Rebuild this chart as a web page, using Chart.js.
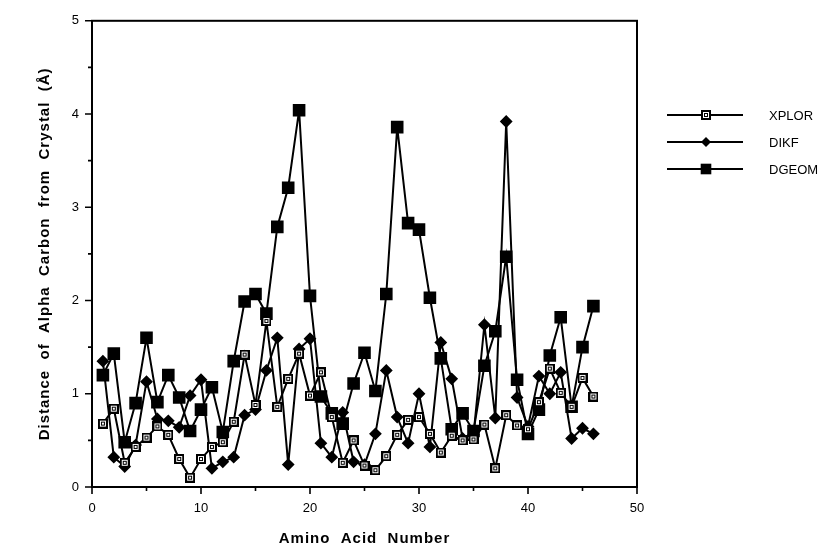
<!DOCTYPE html>
<html><head><meta charset="utf-8">
<script src="https://cdn.jsdelivr.net/npm/chart.js@4/dist/chart.umd.min.js"></script>
<style>html,body{margin:0;padding:0;background:#fff}#wrap{width:827px;height:554px}</style>
</head><body><div id="wrap"><canvas id="c" width="827" height="554"></canvas></div>
<script>
const aminoAcidNumbers = [1,2,3,4,5,6,7,8,9,10,11,12,13,14,15,16,17,18,19,20,21,22,23,24,25,26,27,28,29,30,31,32,33,34,35,36,37,38,39,40,41,42,43,44,45,46];
const xplorValues = [0.68,0.84,0.26,0.43,0.53,0.65,0.56,0.30,0.10,0.30,0.43,0.48,0.70,1.42,0.88,1.78,0.86,1.16,1.43,0.98,1.23,0.75,0.26,0.50,0.23,0.18,0.33,0.56,0.72,0.75,0.57,0.37,0.55,0.50,0.51,0.67,0.20,0.77,0.66,0.62,0.91,1.27,1.01,0.86,1.17,0.97];
const dikfValues = [1.35,0.32,0.22,0.45,1.13,0.73,0.71,0.64,0.98,1.15,0.20,0.27,0.32,0.77,0.83,1.25,1.60,0.24,1.48,1.59,0.47,0.32,0.80,0.27,0.24,0.57,1.25,0.75,0.47,1.00,0.43,1.55,1.16,0.52,0.56,1.74,0.74,3.92,0.96,0.65,1.19,1.00,1.23,0.52,0.63,0.57];
const dgeomValues = [1.20,1.43,0.48,0.90,1.60,0.91,1.20,0.96,0.60,0.83,1.07,0.59,1.35,1.99,2.07,1.86,2.79,3.21,4.04,2.05,0.97,0.79,0.68,1.11,1.44,1.03,2.07,3.86,2.83,2.76,2.03,1.38,0.62,0.79,0.60,1.30,1.67,2.47,1.15,0.57,0.83,1.41,1.82,0.86,1.50,1.94];
const seriesNames = ['XPLOR','DIKF','DGEOM'];
const xTickLabels = [0,10,20,30,40,50];
const yTickLabels = [0,1,2,3,4,5];
const xTitle = 'Amino  Acid  Number';
const yTitle = 'Distance  of  Alpha  Carbon  from  Crystal  (Å)';
const FONT = '"Liberation Sans", Arial, sans-serif';

// open square marker with small inner box
const openSq = document.createElement('canvas');
openSq.width = 10; openSq.height = 10;
(function(){
  const g = openSq.getContext('2d');
  g.fillStyle = '#000'; g.fillRect(0,0,10,10);
  g.fillStyle = '#fff'; g.fillRect(2,2,6,6);
  g.strokeStyle = '#000'; g.lineWidth = 1; g.strokeRect(3.5,3.5,3,3);
})();

function pts(vals){ return aminoAcidNumbers.map((x,i)=>({x:x,y:vals[i]})); }

const frameTicks = {
  id:'frameTicks',
  afterDraw(chart){
    const {ctx, chartArea:a, scales:{x,y}} = chart;
    ctx.save();
    ctx.strokeStyle = '#000'; ctx.lineWidth = 2;
    ctx.strokeRect(a.left, a.top, a.right-a.left, a.bottom-a.top);
    ctx.lineWidth = 1.6;
    ctx.beginPath();
    for (let i=0;i<xTickLabels.length;i++){
      const px = x.getPixelForValue(xTickLabels[i]);
      ctx.moveTo(px, a.bottom); ctx.lineTo(px, a.bottom+7);
      if (i<xTickLabels.length-1){
        const m = x.getPixelForValue((xTickLabels[i]+xTickLabels[i+1])/2);
        ctx.moveTo(m, a.bottom); ctx.lineTo(m, a.bottom+4);
      }
    }
    for (let i=0;i<yTickLabels.length;i++){
      const py = y.getPixelForValue(yTickLabels[i]);
      ctx.moveTo(a.left, py); ctx.lineTo(a.left-7, py);
      if (i<yTickLabels.length-1){
        const m = y.getPixelForValue((yTickLabels[i]+yTickLabels[i+1])/2);
        ctx.moveTo(a.left, m); ctx.lineTo(a.left-4, m);
      }
    }
    ctx.stroke();
    // axis titles
    ctx.fillStyle = '#000';
    ctx.font = 'bold 15px ' + FONT;
    try { ctx.letterSpacing = '1px'; } catch(e) {}
    ctx.textAlign = 'center'; ctx.textBaseline = 'middle';
    ctx.fillText(xTitle, (a.left+a.right)/2, 539);
    ctx.save();
    ctx.translate(45, (a.top+a.bottom)/2);
    ctx.rotate(-Math.PI/2);
    ctx.fillText(yTitle, 0, 0);
    ctx.restore();
    ctx.restore();
  }
};

const customLegend = {
  id:'customLegend',
  afterDraw(chart){
    const ctx = chart.ctx;
    ctx.save();
    chart.data.datasets.forEach((ds,i)=>{
      const yy = 115 + i*27;
      ctx.strokeStyle = '#000'; ctx.lineWidth = 2;
      ctx.beginPath(); ctx.moveTo(667,yy); ctx.lineTo(743,yy); ctx.stroke();
      const cx = 706;
      ctx.fillStyle = '#000';
      if (ds.pointStyle === 'rectRot'){
        const r = ds.pointRadius;
        ctx.beginPath(); ctx.moveTo(cx,yy-r); ctx.lineTo(cx+r,yy); ctx.lineTo(cx,yy+r); ctx.lineTo(cx-r,yy); ctx.closePath(); ctx.fill();
      } else if (ds.pointStyle === 'rect'){
        const s = Math.SQRT1_2*ds.pointRadius;
        ctx.fillRect(cx-s,yy-s,2*s,2*s);
      } else {
        ctx.drawImage(ds.pointStyle, cx-5, yy-5);
      }
      ctx.font = '13px ' + FONT;
      ctx.textBaseline = 'middle'; ctx.textAlign = 'left';
      ctx.fillText(ds.label, 769, yy+1);
    });
    ctx.restore();
  }
};

new Chart(document.getElementById('c'), {
  type:'line',
  data:{ datasets:[
    {label:seriesNames[0], data:pts(xplorValues), borderColor:'#000', borderWidth:2, pointStyle:openSq, pointRadius:5, backgroundColor:'#fff', tension:0},
    {label:seriesNames[1], data:pts(dikfValues), borderColor:'#000', borderWidth:2, pointStyle:'rectRot', pointRadius:5, pointBackgroundColor:'#000', pointBorderColor:'#000', tension:0},
    {label:seriesNames[2], data:pts(dgeomValues), borderColor:'#000', borderWidth:2, pointStyle:'rect', pointRadius:7.5, pointBackgroundColor:'#000', pointBorderColor:'#000', tension:0}
  ]},
  options:{
    responsive:false, animation:false, devicePixelRatio:1,
    layout:{padding:{top:18,right:190,left:0,bottom:0}},
    plugins:{legend:{display:false}, tooltip:{enabled:false}},
    scales:{
      x:{type:'linear', min:0, max:50,
        afterBuildTicks:(s)=>{ s.ticks = xTickLabels.map(v=>({value:v})); },
        afterFit:(s)=>{ s.height = 67; },
        grid:{display:false, drawTicks:false}, border:{display:false},
        ticks:{padding:14, color:'#000', maxRotation:0, font:{size:13, family:FONT}},
        title:{display:false}
      },
      y:{type:'linear', min:0, max:5,
        afterBuildTicks:(s)=>{ s.ticks = yTickLabels.map(v=>({value:v})); },
        afterFit:(s)=>{ s.width = 92; },
        grid:{display:false, drawTicks:false}, border:{display:false},
        ticks:{padding:13, color:'#000', font:{size:13, family:FONT}},
        title:{display:false}
      }
    }
  },
  plugins:[frameTicks, customLegend]
});
</script>
</body></html>
